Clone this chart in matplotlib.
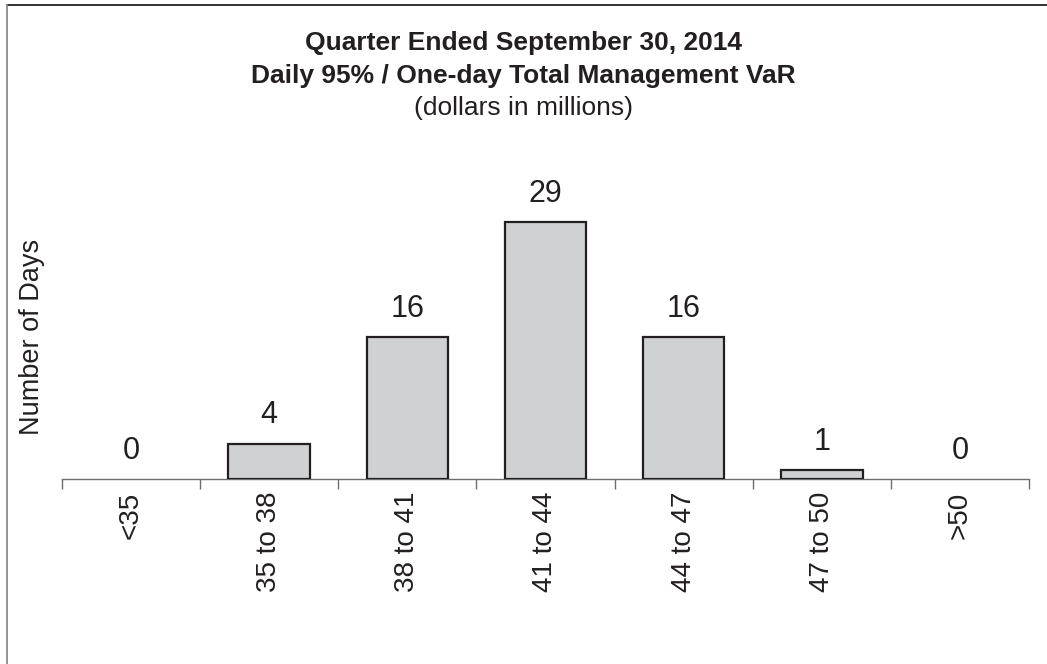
import numpy as np
import matplotlib.pyplot as plt
from matplotlib.lines import Line2D

categories = ['<35', '35 to 38', '38 to 41', '41 to 44', '44 to 47', '47 to 50', '>50']
days = [0, 4, 16, 29, 16, 1, 0]

plt.rcParams['font.family'] = ['Liberation Sans', 'DejaVu Sans']

fig = plt.figure(figsize=(10.47, 6.64), dpi=100)
ax = fig.add_axes([0.0592, 0.2786, 0.9236, 0.427])

x = np.arange(len(categories))
lw = [1.6 if v > 0 else 0 for v in days]
ax.bar(x, days, width=0.59, color='#d0d1d3', edgecolor='#231f20', linewidth=lw, zorder=3)

for xi, v in zip(x, days):
    ax.annotate(str(v), (xi, v), xytext=(0, 9.5), textcoords='offset points',
                ha='center', va='bottom', fontsize=22, color='#231f20')

ax.set_xlim(-0.5, len(categories) - 0.5)
ax.set_ylim(0, 32)
ax.set_xticks(x)
ax.set_xticklabels(categories, rotation=90, fontsize=20, color='#231f20')
ax.set_xticks(np.arange(-0.5, len(categories)), minor=True)
ax.tick_params(axis='x', which='major', length=0, pad=9)
ax.tick_params(axis='x', which='minor', length=7, width=1, color='#6d6e70', direction='out')
ax.set_yticks([])

for s in ['top', 'right', 'left']:
    ax.spines[s].set_visible(False)
ax.spines['bottom'].set_color('#6d6e70')
ax.spines['bottom'].set_linewidth(1)

ax.set_ylabel('Number of Days', fontsize=19.5, color='#231f20', labelpad=12)

fig.text(0.5, 1 - 43 / 664, 'Quarter Ended September 30, 2014', ha='center', va='center',
         fontsize=19, fontweight='bold', color='#231f20')
fig.text(0.5, 1 - 76 / 664, 'Daily 95% / One-day Total Management VaR', ha='center', va='center',
         fontsize=19, fontweight='bold', color='#231f20')
fig.text(0.5, 1 - 108 / 664, '(dollars in millions)', ha='center', va='center',
         fontsize=19, color='#231f20')

# frame: top and left edges only
fig.lines.append(Line2D([6.5 / 1047, 1], [1 - 4.5 / 664, 1 - 4.5 / 664], transform=fig.transFigure,
                        color='#231f20', linewidth=1.3))
fig.lines.append(Line2D([6.5 / 1047, 6.5 / 1047], [0, 1 - 4.5 / 664], transform=fig.transFigure,
                        color='#8a8a8a', linewidth=1.3))

fig.savefig('out.png', dpi=100)
